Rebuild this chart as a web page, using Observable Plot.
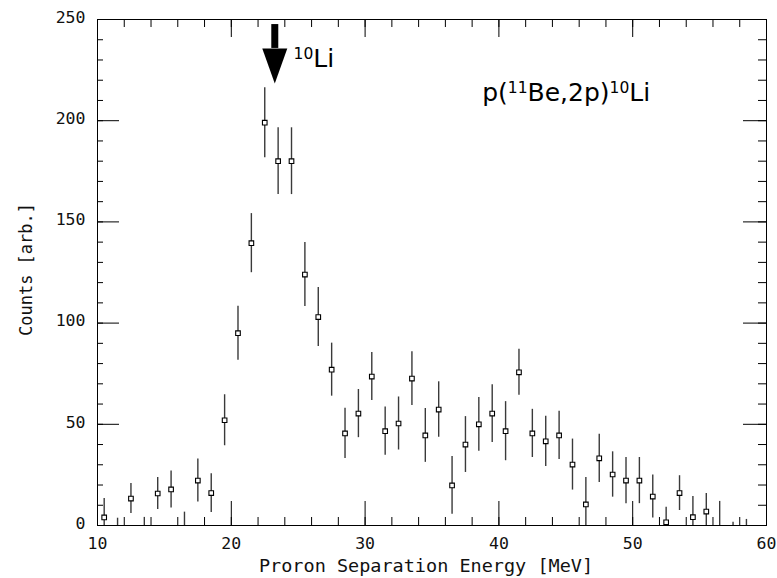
<!DOCTYPE html>
<html><head><meta charset="utf-8">
<script src="https://cdn.jsdelivr.net/npm/d3@7"></script>
<script src="https://cdn.jsdelivr.net/npm/@observablehq/plot@0.6"></script>
<style>body{margin:0;background:#fff;}</style>
</head><body><div id="chart"></div>
<script>
// ---- data ----
const energy = [10.5, 11.5, 12.5, 13.5, 14.5, 15.5, 16.5, 17.5, 18.5, 19.5,
  20.5, 21.5, 22.5, 23.5, 24.5, 25.5, 26.5, 27.5, 28.5, 29.5,
  30.5, 31.5, 32.5, 33.5, 34.5, 35.5, 36.5, 37.5, 38.5, 39.5,
  40.5, 41.5, 42.5, 43.5, 44.5, 45.5, 46.5, 47.5, 48.5, 49.5,
  50.5, 51.5, 52.5, 53.5, 54.5, 55.5, 56.5, 57.5, 58.5];
const counts = [4, 0, 13.3, 0, 15.8, 17.8, 0, 22.2, 16, 52,
  95, 139.5, 199, 180, 180, 124, 103, 77, 45.5, 55.3,
  73.6, 46.6, 50.4, 72.6, 44.5, 57.3, 19.8, 40, 50, 55.3,
  46.6, 75.7, 45.5, 41.6, 44.5, 30.1, 10.4, 33.2, 25.2, 22.2,
  22.2, 14.3, 1.6, 16, 4.1, 6.9, 0, 0, 0];
const errors = [9.3, 3.6, 7.4, 4, 7.9, 9.1, 6.6, 10.6, 9.6, 12.6,
  13.3, 14.6, 17.3, 16.5, 16.5, 15.8, 14.6, 13.1, 12.4, 11.9,
  11.9, 11.9, 13.1, 13.3, 13.3, 13.7, 14.3, 13.8, 13.3, 14.3,
  14.6, 11.4, 11.9, 12.4, 11.9, 12.6, 13.3, 11.9, 11.2, 11.4,
  11.4, 10.6, 7.4, 8.6, 10.2, 8.9, 11.9, 1.6, 3];

const xMajorTicks = [10, 20, 30, 40, 50, 60];
const xMinorTicks = [10, 12, 14, 16, 18, 20, 22, 24, 26, 28, 30, 32, 34, 36, 38, 40, 42, 44, 46, 48, 50, 52, 54, 56, 58, 60];
const yMajorTicks = [0, 50, 100, 150, 200, 250];
const yMinorTicks = [0, 10, 20, 30, 40, 50, 60, 70, 80, 90, 100, 110, 120, 130, 140, 150, 160, 170, 180, 190, 200, 210, 220, 230, 240, 250];
const xTitle = "Proron Separation Energy [MeV]";
const yTitle = "Counts [arb.]";

// annotation (arrow marking the 10Li peak, and reaction label)
const arrowX = [23.25];
const arrowShaftTop = 247.5, arrowShaftBottom = 235.7, arrowHeadCenter = 227;
const annotationX = [24.65, 38.75];
const annotationY = [230.7, 213.9];
const annotationText = ["^10^Li", "p(^11^Be,2p)^10^Li"];

// ---- build ----
const points = energy.map((e, i) => ({energy: e, count: counts[i], err: errors[i]}));
const annotations = annotationText.map((t, i) => ({x: annotationX[i], y: annotationY[i], text: t}));

const W = 777, H = 578, mL = 97, mR = 11, mT = 19, mB = 53;
const frameH = H - mT - mB, frameW = W - mL - mR;

const headSymbol = {
  draw(ctx) {
    ctx.moveTo(-12.5, -17.5);
    ctx.lineTo(12.5, -17.5);
    ctx.lineTo(0, 17.5);
    ctx.closePath();
  }
};

const axisFont = "DejaVu Sans Mono, monospace";
const labelFont = "DejaVu Sans, Verdana, sans-serif";

const chart = Plot.plot({
  width: W, height: H,
  marginLeft: mL, marginRight: mR, marginTop: mT, marginBottom: mB,
  x: {domain: [10, 60]},
  y: {domain: [0, 250]},
  style: {background: "#fff", color: "#111"},
  marks: [
    // error bars
    Plot.ruleX(points, {x: "energy", y1: d => d.count - d.err, y2: d => d.count + d.err,
      stroke: "#3a3a3a", strokeWidth: 1.4, clip: true}),
    // markers
    Plot.dot(points.filter(d => d.count > 0), {x: "energy", y: "count", symbol: "square", r: 2.6,
      stroke: "#000", fill: "#fff", strokeWidth: 1.1}),
    // inward ticks: bottom
    Plot.ruleX(xMinorTicks, {x: d => d, insetTop: frameH - 8, stroke: "#000"}),
    Plot.ruleX(xMajorTicks, {x: d => d, insetTop: frameH - 24, stroke: "#000"}),
    // top
    Plot.ruleX(xMinorTicks, {x: d => d, insetBottom: frameH - 8, stroke: "#000"}),
    Plot.ruleX(xMajorTicks, {x: d => d, insetBottom: frameH - 18, stroke: "#000"}),
    // left
    Plot.ruleY(yMinorTicks, {y: d => d, insetRight: frameW - 6, stroke: "#000"}),
    Plot.ruleY(yMajorTicks, {y: d => d, insetRight: frameW - 22, stroke: "#000"}),
    // right
    Plot.ruleY(yMinorTicks, {y: d => d, insetLeft: frameW - 8, stroke: "#000"}),
    Plot.ruleY(yMajorTicks, {y: d => d, insetLeft: frameW - 23, stroke: "#000"}),
    Plot.frame({stroke: "#000"}),
    // tick labels
    Plot.axisX({ticks: xMajorTicks, tickSize: 0, tickPadding: 12, label: null,
      fontSize: 16.5, fontFamily: axisFont, fill: "#111"}),
    Plot.axisY({ticks: yMajorTicks, tickSize: 0, tickPadding: 12, label: null,
      fontSize: 16.5, fontFamily: axisFont, fill: "#111", dy: -2}),
    // axis titles
    Plot.text([xTitle], {frameAnchor: "bottom", textAnchor: "middle", lineAnchor: "middle",
      dy: 41, dx: -6, text: d => d, fontSize: 18.5, fontFamily: axisFont, fill: "#111"}),
    Plot.text([yTitle], {frameAnchor: "left", textAnchor: "middle", lineAnchor: "middle",
      dx: -71, dy: -3, rotate: -90, text: d => d, fontSize: 17, fontFamily: axisFont, fill: "#111"}),
    // arrow
    Plot.ruleX(arrowX, {x: d => d, y1: arrowShaftTop, y2: arrowShaftBottom, stroke: "#000", strokeWidth: 7}),
    Plot.dot(arrowX, {x: d => d, y: arrowHeadCenter, symbol: headSymbol, fill: "#000", stroke: "none"}),
    // annotations
    Plot.text(annotations, {x: "x", y: "y", text: "text", textAnchor: "start",
      fontSize: 25, fontFamily: labelFont, fill: "#000"})
  ]
});

// superscripts in annotation labels
d3.select(chart).selectAll("text").each(function () {
  const t = this.textContent;
  if (!t.includes("^")) return;
  const parts = t.split("^");
  const sel = d3.select(this);
  sel.text(null);
  let raised = false;
  parts.forEach((p, i) => {
    if (!p) return;
    const ts = sel.append("tspan").text(p);
    if (i % 2 === 1) {
      ts.attr("font-size", 15.5).attr("dy", -8);
      raised = true;
    } else if (raised) {
      ts.attr("dy", 8);
      raised = false;
    }
  });
});

document.getElementById("chart").appendChild(chart);
</script>
</body></html>
